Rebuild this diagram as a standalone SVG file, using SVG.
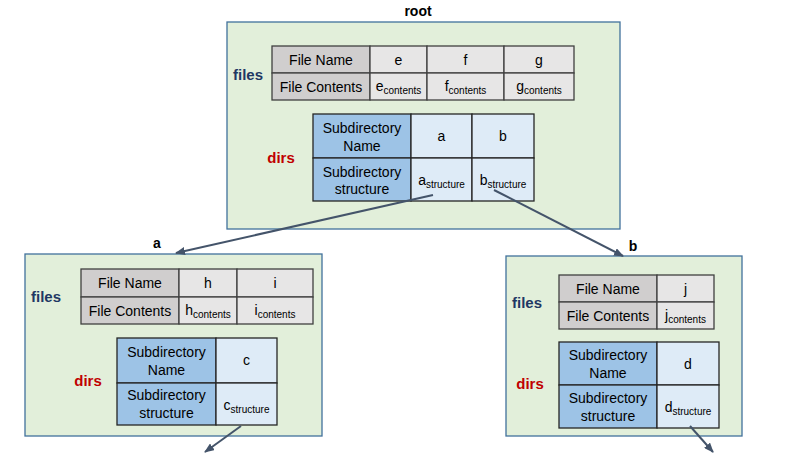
<svg xmlns="http://www.w3.org/2000/svg" width="812" height="460" viewBox="0 0 812 460">
<style>
text{font-family:"Liberation Sans",Arial,sans-serif;font-size:14px;fill:#000;text-anchor:middle}
.title{font-weight:bold;font-size:14px}
.files{font-weight:bold;font-size:15px;fill:#1f3864}
.dirs{font-weight:bold;font-size:15px;fill:#c00000}
.sub{font-size:10px}
.box{fill:#e2efda;stroke:#41719c;stroke-width:1.3}
.gh{fill:#d0cece;stroke:#404040;stroke-width:1.3}
.gc{fill:#e7e6e6;stroke:#404040;stroke-width:1.3}
.bh{fill:#9dc3e6;stroke:#262626;stroke-width:1.3}
.bc{fill:#deebf7;stroke:#262626;stroke-width:1.3}
.conn{stroke:#44546a;stroke-width:2;fill:none;marker-end:url(#ah)}
</style>
<defs>
<marker id="ah" markerUnits="userSpaceOnUse" markerWidth="10" markerHeight="8" refX="9" refY="4" orient="auto">
<path d="M0,0 L10,4 L0,8 z" fill="#44546a"/>
</marker>
</defs>

<g id="root">
<rect class="box" x="227" y="22" width="393" height="207"/>
<text class="title" x="418" y="16">root</text>
<text class="files" x="248" y="80">files</text>
<rect class="gh" x="272" y="46" width="98" height="27"/>
<rect class="gh" x="272" y="73" width="98" height="27"/>
<rect class="gc" x="370" y="46" width="57" height="27"/>
<rect class="gc" x="370" y="73" width="57" height="27"/>
<rect class="gc" x="427" y="46" width="77" height="27"/>
<rect class="gc" x="427" y="73" width="77" height="27"/>
<rect class="gc" x="504" y="46" width="70" height="27"/>
<rect class="gc" x="504" y="73" width="70" height="27"/>
<text x="321" y="64.5">File Name</text>
<text x="321" y="91.5">File Contents</text>
<text x="398.5" y="64.5">e</text>
<text x="465.5" y="64.5">f</text>
<text x="539" y="64.5">g</text>
<text x="398.5" y="91">e<tspan class="sub" dy="3">contents</tspan></text>
<text x="465.5" y="91">f<tspan class="sub" dy="3">contents</tspan></text>
<text x="539" y="91">g<tspan class="sub" dy="3">contents</tspan></text>
<text class="dirs" x="281" y="163">dirs</text>
<rect class="bh" x="313" y="114" width="98" height="44"/>
<rect class="bh" x="313" y="158" width="98" height="43"/>
<rect class="bc" x="411" y="114" width="61" height="44"/>
<rect class="bc" x="411" y="158" width="61" height="43"/>
<rect class="bc" x="472" y="114" width="62" height="44"/>
<rect class="bc" x="472" y="158" width="62" height="43"/>
<text x="362" y="133">Subdirectory</text>
<text x="362" y="151">Name</text>
<text x="362" y="177">Subdirectory</text>
<text x="362" y="194">structure</text>
<text x="441.5" y="141">a</text>
<text x="503" y="141">b</text>
<text x="441.5" y="185">a<tspan class="sub" dy="3">structure</tspan></text>
<text x="503" y="185">b<tspan class="sub" dy="3">structure</tspan></text>
</g>

<g id="a">
<rect class="box" x="25" y="254" width="297" height="182"/>
<text class="title" x="157" y="248">a</text>
<text class="files" x="46" y="302">files</text>
<rect class="gh" x="81" y="269" width="98" height="28"/>
<rect class="gh" x="81" y="297" width="98" height="27"/>
<rect class="gc" x="179" y="269" width="58" height="28"/>
<rect class="gc" x="179" y="297" width="58" height="27"/>
<rect class="gc" x="237" y="269" width="76" height="28"/>
<rect class="gc" x="237" y="297" width="76" height="27"/>
<text x="130" y="288">File Name</text>
<text x="130" y="315.5">File Contents</text>
<text x="208" y="288">h</text>
<text x="275" y="288">i</text>
<text x="208" y="315">h<tspan class="sub" dy="3">contents</tspan></text>
<text x="275" y="315">i<tspan class="sub" dy="3">contents</tspan></text>
<text class="dirs" x="88" y="386">dirs</text>
<rect class="bh" x="117" y="338" width="99" height="45"/>
<rect class="bh" x="117" y="383" width="99" height="42"/>
<rect class="bc" x="216" y="338" width="61" height="45"/>
<rect class="bc" x="216" y="383" width="61" height="42"/>
<text x="166.5" y="357">Subdirectory</text>
<text x="166.5" y="375">Name</text>
<text x="166.5" y="400">Subdirectory</text>
<text x="166.5" y="418">structure</text>
<text x="246.5" y="365">c</text>
<text x="246.5" y="410">c<tspan class="sub" dy="3">structure</tspan></text>
</g>

<g id="b">
<rect class="box" x="506" y="256" width="236" height="180"/>
<text class="title" x="633" y="251">b</text>
<text class="files" x="527" y="308">files</text>
<rect class="gh" x="559" y="275" width="98" height="27"/>
<rect class="gh" x="559" y="302" width="98" height="27"/>
<rect class="gc" x="657" y="275" width="57" height="27"/>
<rect class="gc" x="657" y="302" width="57" height="27"/>
<text x="608" y="293.5">File Name</text>
<text x="608" y="320.5">File Contents</text>
<text x="685.5" y="293.5">j</text>
<text x="685.5" y="320">j<tspan class="sub" dy="3">contents</tspan></text>
<text class="dirs" x="530" y="389">dirs</text>
<rect class="bh" x="559" y="342" width="98" height="43"/>
<rect class="bh" x="559" y="385" width="98" height="43"/>
<rect class="bc" x="657" y="342" width="62" height="43"/>
<rect class="bc" x="657" y="385" width="62" height="43"/>
<text x="608" y="360">Subdirectory</text>
<text x="608" y="378">Name</text>
<text x="608" y="403">Subdirectory</text>
<text x="608" y="421">structure</text>
<text x="688" y="368.5">d</text>
<text x="688" y="412">d<tspan class="sub" dy="3">structure</tspan></text>
</g>

<g id="connectors">
<path class="conn" d="M433,195 L176,253"/>
<path class="conn" d="M494,190 L623,256"/>
<path class="conn" d="M241,426 L205,452"/>
<path class="conn" d="M690,426 L713,452"/>
</g>
</svg>
